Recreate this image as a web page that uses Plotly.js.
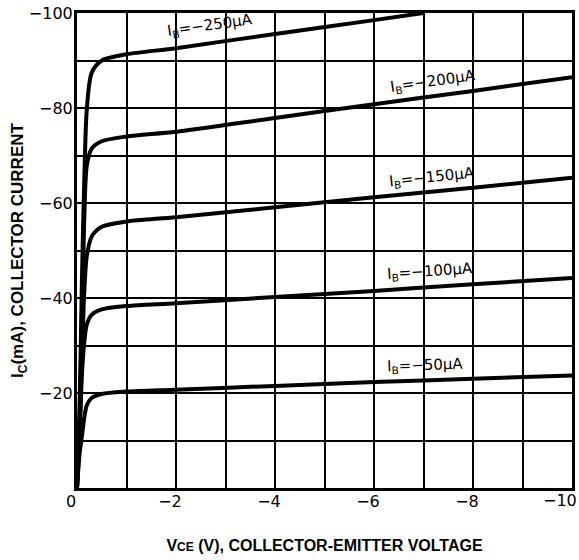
<!DOCTYPE html>
<html>
<head>
<meta charset="utf-8">
<script src="https://cdn.plot.ly/plotly-3.0.1.min.js"></script>
<style>html,body{margin:0;padding:0;background:#fff;}#chart{width:579px;height:560px;}</style>
</head>
<body>
<div id="chart"></div>
<script>
// V_CE (V)
var vce = [0, -0.05, -0.1, -0.15, -0.2, -0.3, -0.5, -1, -2, -4, -6, -8, -10];
var vce250 = [0, -0.05, -0.1, -0.15, -0.2, -0.3, -0.5, -1, -2, -4, -6, -7];
// I_C (mA) for each base current
var ic50  = [0, -7, -11, -15, -17.5, -19, -19.8, -20.3, -20.7, -21.5, -22.3, -23.0, -23.7];
var ic100 = [0, -10, -24, -31, -34.5, -36.5, -37.6, -38.3, -38.9, -40.2, -41.5, -42.9, -44.2];
var ic150 = [0, -12, -28, -42, -49, -53, -55.0, -56.1, -57.0, -59.1, -61.2, -63.2, -65.3];
var ic200 = [0, -14, -36, -58, -68, -71.5, -73.0, -74.0, -75.0, -77.9, -80.8, -83.6, -86.5];
var ic250 = [0, -16, -44, -66, -80, -87.5, -90.0, -91.3, -92.6, -95.6, -98.5, -100];

var labels = ["I<sub>B</sub>=−50μA", "I<sub>B</sub>=−100μA", "I<sub>B</sub>=−150μA", "I<sub>B</sub>=−200μA", "I<sub>B</sub>=−250μA"];
var labelX = [-7.03, -7.13, -7.17, -7.19, -2.69];
var labelY = [-25.7, -45.6, -65.4, -85.6, -97.4];
var labelAngle = [-2, -4, -6, -8, -8];

var xTicks = [0, -2, -4, -6, -8];
var xTickLast = -10;
var yTicks = [-20, -40, -60, -80, -100];

var tickFont = {family: 'DejaVu Sans, sans-serif', size: 16, color: '#000'};

function curve(x, y) {
  return {x: x, y: y, type: 'scatter', mode: 'lines',
    line: {color: '#000', width: 4, shape: 'spline', smoothing: 0.8},
    hoverinfo: 'skip', showlegend: false};
}
var data = [curve(vce, ic50), curve(vce, ic100), curve(vce, ic150), curve(vce, ic200), curve(vce250, ic250)];

var annotations = labels.map(function (t, i) {
  return {x: labelX[i], y: labelY[i], xref: 'x', yref: 'y', text: t, showarrow: false,
    textangle: labelAngle[i], font: {family: 'DejaVu Sans, sans-serif', size: 15, color: '#000'}};
});
// last x tick label, kept inside the page at the right edge
annotations.push({x: xTickLast, y: 0, xref: 'x', yref: 'paper', text: '−10', showarrow: false,
  xanchor: 'right', yanchor: 'top', xshift: 7, yshift: -1, font: tickFont});

var layout = {
  width: 579, height: 560,
  margin: {l: 77, r: 7, t: 13, b: 72},
  paper_bgcolor: '#fff', plot_bgcolor: '#fff',
  font: {family: 'Liberation Sans, Arial, sans-serif', color: '#000'},
  xaxis: {
    range: [0, -10], tickvals: xTicks, ticks: '', ticklabelshift: 6, ticklabelstandoff: -3,
    tickfont: tickFont,
    showgrid: true, gridcolor: '#000', gridwidth: 2,
    minor: {dtick: 1, tick0: 0, showgrid: true, gridcolor: '#000', gridwidth: 2, ticks: ''},
    showline: true, linecolor: '#000', linewidth: 3, mirror: true, zeroline: false,
    title: {text: '<b>V<span style="font-size:12px">CE</span> (V), COLLECTOR-EMITTER VOLTAGE</b>',
      font: {size: 16, color: '#000'}, standoff: 30}
  },
  yaxis: {
    range: [0, -100], tickvals: yTicks, ticks: '', ticklabelstandoff: -2,
    ticklabeloverflow: 'allow',
    tickfont: tickFont,
    showgrid: true, gridcolor: '#000', gridwidth: 2,
    minor: {dtick: 10, tick0: 0, showgrid: true, gridcolor: '#000', gridwidth: 2, ticks: ''},
    showline: true, linecolor: '#000', linewidth: 3, mirror: true, zeroline: false,
    title: {text: '<b>I<sub>C</sub>(mA), COLLECTOR CURRENT</b>', font: {size: 17, color: '#000'}, standoff: 1}
  },
  annotations: annotations
};

Plotly.newPlot('chart', data, layout, {staticPlot: true});
</script>
</body>
</html>
